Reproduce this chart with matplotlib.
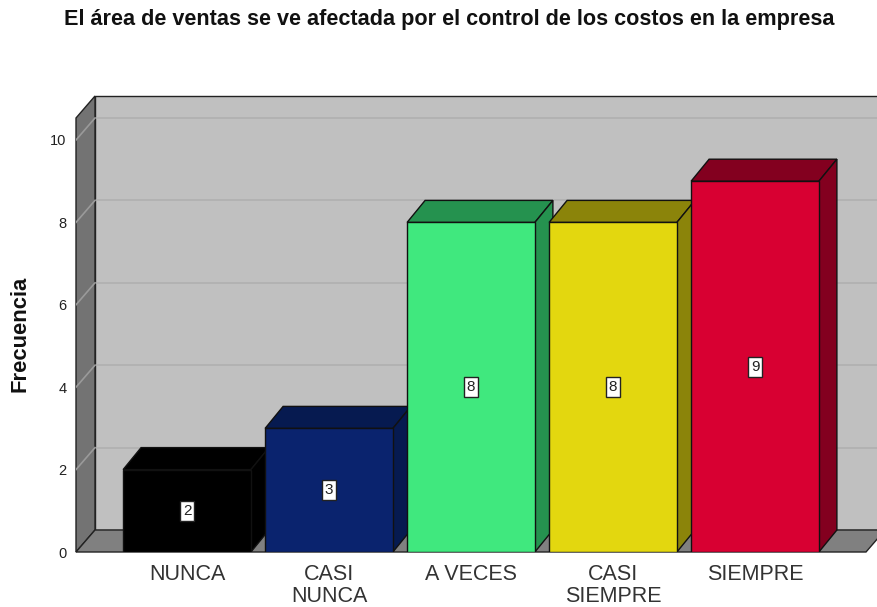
import matplotlib
matplotlib.use("Agg")
import matplotlib.pyplot as plt
from matplotlib.patches import Polygon

plt.rcParams["font.family"] = ["Liberation Sans", "DejaVu Sans"]

categories = ["NUNCA", "CASI\nNUNCA", "A VECES", "CASI\nSIEMPRE", "SIEMPRE"]
counts = [2, 3, 8, 8, 9]
front_colors = ["#000000", "#0A236E", "#40E87E", "#E3D70F", "#D80032"]
dark_colors = ["#000000", "#061A50", "#25924F", "#8B840A", "#83001F"]
yticks = [0, 2, 4, 6, 8, 10]

W, H = 877, 607
fig = plt.figure(figsize=(W / 100, H / 100), dpi=100)

# front plane of the 3d box: y=0 at px 552, 41.2 px per unit, categories 142 px apart
px_unit_y = 41.2
px_unit_x = 142.0
x_left = (76 - 187) / px_unit_x
x_right = (877 - 187) / px_unit_x
y_top = (552 - 96) / px_unit_y
ax = fig.add_axes([76 / W, (H - 552) / H, (877 - 76) / W, (552 - 96) / H])
ax.set_xlim(x_left, x_right)
ax.set_ylim(0, y_top)

# depth offsets
dx = 19 / px_unit_x
dy = 22 / px_unit_y
bdx = 18 / px_unit_x
half = 0.45
wall_left = x_left
floor_right = (866 - 187) / px_unit_x
wall_front_top = y_top - dy

# back wall, left wall, floor
ax.add_patch(Polygon([(wall_left + dx, dy), (x_right + 1, dy), (x_right + 1, y_top),
                      (wall_left + dx, y_top)], closed=True, fc="#C0C0C0", ec="#222222",
                     lw=1, clip_on=False, zorder=1))
ax.add_patch(Polygon([(wall_left, 0), (wall_left + dx, dy), (wall_left + dx, y_top),
                      (wall_left, wall_front_top)], closed=True, fc="#737373", ec="#222222",
                     lw=1, clip_on=False, zorder=2))
ax.add_patch(Polygon([(wall_left, 0), (floor_right, 0), (floor_right + dx, dy),
                      (wall_left + dx, dy)], closed=True, fc="#808080", ec="#222222",
                     lw=1, clip_on=False, zorder=2))

# grid lines
for v in yticks[1:]:
    ax.plot([wall_left + dx, x_right], [v + dy, v + dy], color="#B0B0B0", lw=1.2, zorder=1.5)
    ax.plot([wall_left, wall_left + dx], [v, v + dy], color="#9A9A9A", lw=1.2, zorder=2.5)

# bars, left to right
for i, (v, fc, dc) in enumerate(zip(counts, front_colors, dark_colors)):
    z = 3 + i
    l, r = i - half, i + half
    ax.add_patch(Polygon([(l, v), (r, v), (r + bdx, v + dy), (l + bdx, v + dy)],
                         closed=True, fc=dc, ec="#111111", lw=1, zorder=z))
    ax.add_patch(Polygon([(r, 0), (r + bdx, dy), (r + bdx, v + dy), (r, v)],
                         closed=True, fc=dc, ec="#111111", lw=1, zorder=z))
    ax.add_patch(Polygon([(l, 0), (r, 0), (r, v), (l, v)],
                         closed=True, fc=fc, ec="#111111", lw=1, zorder=z))
    ax.text(i, v / 2, str(v), ha="center", va="center", fontsize=11, color="#222222",
            zorder=z + 0.5,
            bbox=dict(boxstyle="square,pad=0.2", fc="white", ec="#222222", lw=1))

ax.set_yticks(yticks)
ax.set_yticklabels([str(t) for t in yticks], fontsize=10.5, color="#222222")
ax.set_xticks(range(len(categories)))
ax.set_xticklabels(categories, fontsize=15.5, color="#333333", linespacing=1.0)
ax.tick_params(axis="both", length=0)
ax.tick_params(axis="y", pad=7)
ax.tick_params(axis="x", pad=9)
for s in ax.spines.values():
    s.set_visible(False)

fig.text(449 / W, 1 - 20 / H, "El área de ventas se ve afectada por el control de los costos en la empresa",
         ha="center", va="center", fontsize=15.6, fontweight="bold", color="#111111")
fig.text(20 / W, 1 - 334 / H, "Frecuencia", rotation=90, ha="center", va="center",
         fontsize=15.8, fontweight="bold", color="#111111")

fig.savefig("out.png", dpi=100)
